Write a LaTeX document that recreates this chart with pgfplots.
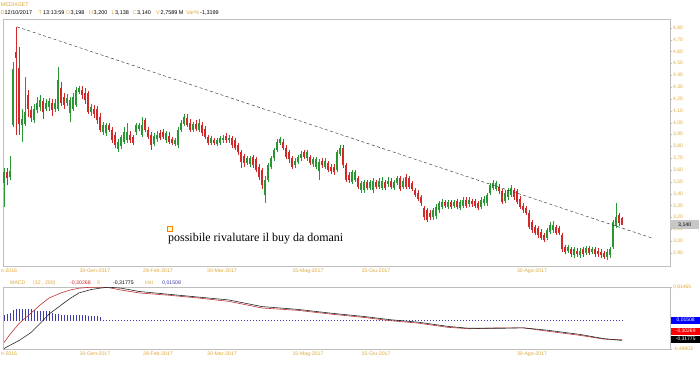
\documentclass[border=0pt]{standalone}
\usepackage{pgfplots}
\pgfplotsset{compat=1.18}
\usepackage{pgfplotstable}
\usepackage{fontspec}
\setmainfont{Liberation Sans}
\newfontfamily\annfont{Liberation Serif}
\definecolor{gold}{RGB}{222,168,58}
\definecolor{cgreen}{RGB}{40,150,50}
\definecolor{cred}{RGB}{210,40,40}
\definecolor{framegray}{RGB}{190,190,190}
\definecolor{histblue}{RGB}{60,60,170}
\definecolor{macdred}{RGB}{190,50,50}
\newcommand\g[1]{\textcolor{gold}{#1}}

\pgfplotstableread{
i o h l c hist
1 3.49 3.62 3.29 3.58 0.15
2 3.58 3.62 3.47 3.53 0.17
3 3.54 3.72 3.52 3.59 0.19
4 3.98 4.51 3.96 4.45 0.24
5 4.60 4.81 3.90 4.55 0.28
6 4.46 4.64 3.90 3.99 0.28
7 3.98 4.12 3.84 4.03 0.28
8 3.99 4.39 3.97 4.09 0.28
9 4.23 4.28 4.05 4.12 0.28
10 4.11 4.14 4.01 4.04 0.28
11 4.02 4.16 4.00 4.12 0.24
12 4.11 4.22 4.08 4.17 0.22
13 4.13 4.23 4.10 4.19 0.22
14 4.18 4.21 4.03 4.09 0.22
15 4.12 4.20 4.10 4.17 0.22
16 4.13 4.21 4.10 4.18 0.22
17 4.17 4.20 4.06 4.11 0.18
18 4.12 4.20 4.09 4.17 0.16
19 4.12 4.47 4.10 4.36 0.16
20 4.29 4.34 4.14 4.17 0.15
21 4.22 4.25 4.12 4.15 0.15
22 4.17 4.24 4.14 4.21 0.15
23 4.08 4.22 4.01 4.19 0.15
24 4.12 4.25 4.10 4.22 0.15
25 4.15 4.30 4.13 4.28 0.15
26 4.26 4.31 4.24 4.29 0.15
27 4.28 4.31 4.20 4.23 0.15
28 4.25 4.29 4.16 4.19 0.14
29 4.25 4.27 4.07 4.09 0.12
30 4.09 4.16 4.06 4.13 0.11
31 4.12 4.15 4.04 4.07 0.11
32 4.12 4.14 3.99 4.02 0.11
33 4.05 4.08 3.92 3.94 0.10
34 3.92 4.01 3.90 3.98 0.035
35 3.91 4.00 3.89 3.98 0.035
36 3.98 4.00 3.92 3.94 0.035
37 3.94 3.96 3.83 3.85 0.035
38 3.90 3.92 3.79 3.81 0.035
39 3.78 3.86 3.75 3.84 0.035
40 3.80 3.90 3.78 3.88 0.035
41 3.84 3.96 3.82 3.92 0.035
42 3.85 4.00 3.83 3.92 0.035
43 3.90 3.93 3.83 3.85 0.035
44 3.88 3.90 3.81 3.83 0.035
45 3.92 4.00 3.90 3.98 0.035
46 3.95 4.00 3.93 3.98 0.035
47 3.90 4.05 3.88 3.98 0.035
48 4.02 4.04 3.92 3.94 0.035
49 3.94 3.96 3.86 3.88 0.035
50 3.90 3.92 3.77 3.81 0.035
51 3.82 3.91 3.80 3.89 0.035
52 3.86 3.93 3.84 3.90 0.035
53 3.91 3.94 3.85 3.87 0.035
54 3.92 3.95 3.86 3.88 0.035
55 3.85 3.93 3.83 3.91 0.035
56 3.89 3.92 3.82 3.84 0.035
57 3.86 3.88 3.81 3.83 0.035
58 3.82 3.87 3.80 3.85 0.035
59 3.81 3.96 3.79 3.94 0.035
60 3.94 4.02 3.92 4.00 0.035
61 3.99 4.07 3.97 4.05 0.035
62 4.04 4.07 3.96 3.98 0.035
63 4.00 4.03 3.92 3.94 0.035
64 3.94 4.01 3.92 3.99 0.035
65 3.99 4.02 3.93 3.95 0.035
66 3.94 4.03 3.92 4.00 0.035
67 3.98 4.01 3.89 3.91 0.035
68 3.95 3.97 3.86 3.88 0.035
69 3.88 3.90 3.81 3.83 0.035
70 3.83 3.89 3.81 3.87 0.035
71 3.85 3.87 3.81 3.83 0.035
72 3.82 3.87 3.80 3.85 0.035
73 3.83 3.89 3.81 3.87 0.035
74 3.85 3.90 3.83 3.87 0.035
75 3.89 3.91 3.83 3.85 0.035
76 3.85 3.90 3.83 3.87 0.035
77 3.87 3.89 3.79 3.81 0.035
78 3.85 3.87 3.77 3.79 0.035
79 3.81 3.83 3.73 3.75 0.035
80 3.75 3.77 3.62 3.67 0.035
81 3.72 3.74 3.63 3.66 0.035
82 3.66 3.72 3.64 3.70 0.035
83 3.65 3.72 3.63 3.70 0.035
84 3.71 3.73 3.62 3.64 0.035
85 3.69 3.71 3.58 3.60 0.035
86 3.63 3.65 3.52 3.54 0.035
87 3.60 3.62 3.44 3.47 0.035
88 3.39 3.55 3.32 3.52 0.035
89 3.52 3.66 3.50 3.64 0.035
90 3.63 3.72 3.61 3.70 0.035
91 3.70 3.79 3.68 3.77 0.035
92 3.77 3.86 3.75 3.84 0.035
93 3.83 3.88 3.81 3.86 0.035
94 3.84 3.86 3.77 3.79 0.035
95 3.79 3.81 3.69 3.71 0.035
96 3.75 3.77 3.66 3.69 0.035
97 3.70 3.72 3.61 3.63 0.035
98 3.64 3.70 3.62 3.68 0.035
99 3.67 3.73 3.65 3.71 0.035
100 3.70 3.76 3.68 3.74 0.035
101 3.75 3.77 3.69 3.71 0.035
102 3.70 3.77 3.68 3.75 0.035
103 3.71 3.73 3.64 3.66 0.035
104 3.65 3.71 3.63 3.69 0.035
105 3.63 3.71 3.61 3.69 0.035
106 3.59 3.69 3.52 3.67 0.035
107 3.68 3.70 3.62 3.64 0.035
108 3.63 3.70 3.61 3.68 0.035
109 3.66 3.68 3.58 3.60 0.035
110 3.63 3.65 3.57 3.59 0.035
111 3.63 3.65 3.56 3.58 0.035
112 3.60 3.77 3.58 3.75 0.035
113 3.74 3.81 3.72 3.79 0.035
114 3.79 3.81 3.62 3.64 0.035
115 3.64 3.66 3.50 3.52 0.035
116 3.56 3.58 3.49 3.52 0.035
117 3.50 3.60 3.48 3.58 0.035
118 3.52 3.60 3.50 3.58 0.035
119 3.53 3.55 3.44 3.46 0.035
120 3.43 3.51 3.41 3.49 0.035
121 3.43 3.52 3.41 3.50 0.035
122 3.50 3.52 3.43 3.45 0.035
123 3.45 3.52 3.43 3.50 0.035
124 3.43 3.53 3.41 3.51 0.035
125 3.50 3.52 3.44 3.46 0.035
126 3.46 3.53 3.44 3.51 0.035
127 3.45 3.54 3.43 3.51 0.035
128 3.50 3.52 3.43 3.45 0.035
129 3.48 3.54 3.46 3.51 0.035
130 3.51 3.53 3.44 3.46 0.035
131 3.45 3.52 3.43 3.50 0.035
132 3.49 3.55 3.47 3.53 0.035
133 3.53 3.55 3.42 3.44 0.035
134 3.46 3.53 3.44 3.51 0.035
135 3.54 3.57 3.44 3.46 0.035
136 3.53 3.55 3.44 3.46 0.035
137 3.49 3.51 3.42 3.44 0.035
138 3.43 3.45 3.37 3.39 0.035
139 3.41 3.43 3.34 3.36 0.035
140 3.37 3.39 3.30 3.32 0.035
141 3.28 3.30 3.18 3.20 0.035
142 3.26 3.28 3.16 3.18 0.035
143 3.24 3.26 3.18 3.20 0.035
144 3.20 3.28 3.18 3.26 0.035
145 3.21 3.31 3.19 3.29 0.035
146 3.26 3.34 3.24 3.32 0.035
147 3.29 3.36 3.27 3.33 0.035
148 3.33 3.35 3.28 3.30 0.035
149 3.29 3.35 3.27 3.33 0.035
150 3.33 3.35 3.27 3.29 0.035
151 3.30 3.35 3.28 3.33 0.035
152 3.34 3.36 3.27 3.29 0.035
153 3.28 3.35 3.26 3.33 0.035
154 3.30 3.37 3.28 3.35 0.035
155 3.35 3.37 3.28 3.30 0.035
156 3.31 3.37 3.29 3.35 0.035
157 3.34 3.36 3.29 3.31 0.035
158 3.34 3.36 3.28 3.30 0.035
159 3.32 3.34 3.26 3.28 0.035
160 3.29 3.37 3.27 3.35 0.035
161 3.32 3.38 3.30 3.36 0.035
162 3.32 3.41 3.30 3.39 0.035
163 3.41 3.49 3.39 3.47 0.035
164 3.45 3.52 3.43 3.49 0.035
165 3.44 3.51 3.42 3.49 0.035
166 3.46 3.48 3.40 3.42 0.035
167 3.42 3.44 3.31 3.33 0.035
168 3.34 3.43 3.32 3.41 0.035
169 3.37 3.45 3.35 3.43 0.035
170 3.39 3.47 3.37 3.45 0.035
171 3.43 3.45 3.35 3.37 0.035
172 3.42 3.44 3.31 3.33 0.035
173 3.36 3.38 3.27 3.29 0.035
174 3.30 3.32 3.24 3.26 0.035
175 3.28 3.30 3.22 3.24 0.035
176 3.24 3.26 3.10 3.12 0.035
177 3.16 3.18 3.07 3.09 0.035
178 3.12 3.14 3.05 3.07 0.035
179 3.11 3.13 3.03 3.05 0.035
180 3.08 3.10 3.01 3.03 0.035
181 3.05 3.07 2.99 3.01 0.035
182 3.03 3.11 3.01 3.09 0.035
183 3.08 3.16 3.06 3.14 0.035
184 3.09 3.17 3.07 3.14 0.035
185 3.12 3.14 3.05 3.07 0.035
186 3.11 3.13 3.05 3.07 0.035
187 3.05 3.07 2.91 2.93 0.035
188 2.95 2.97 2.89 2.91 0.035
189 2.92 2.97 2.90 2.95 0.035
190 2.93 2.95 2.87 2.89 0.035
191 2.88 2.95 2.86 2.93 0.035
192 2.92 2.94 2.87 2.89 0.035
193 2.88 2.94 2.86 2.92 0.035
194 2.93 2.95 2.87 2.89 0.035
195 2.90 2.96 2.88 2.94 0.035
196 2.94 2.96 2.88 2.90 0.035
197 2.91 2.95 2.89 2.93 0.035
198 2.93 2.95 2.87 2.89 0.035
199 2.92 2.94 2.87 2.89 0.035
200 2.91 2.93 2.86 2.88 0.035
201 2.90 2.92 2.85 2.87 0.035
202 2.87 2.93 2.84 2.91 0.035
203 2.88 2.95 2.86 2.93 0.035
204 2.95 3.18 2.93 3.16 0.035
205 3.13 3.32 3.11 3.20 0.035
206 3.22 3.24 3.13 3.15 0.035
207 3.198 3.200 3.138 3.140 0.035
}\candles

\pgfplotstableread{
i macd sig
1 -0.36 -0.49
3 -0.19 -0.42
6 0.04 -0.32
10 0.26 -0.15
13 0.43 0.04
16 0.58 0.24
20 0.69 0.43
23 0.75 0.57
26 0.79 0.69
30 0.81 0.76
33 0.81 0.79
36 0.80 0.81
40 0.75 0.79
46 0.69 0.72
56 0.64 0.66
66 0.58 0.60
76 0.51 0.54
87 0.37 0.40
99 0.32 0.34
110 0.24 0.26
121 0.17 0.19
130 0.10 0.12
139 0.05 0.07
149 -0.04 -0.02
156 -0.07 -0.06
167 -0.05 -0.06
174 -0.05 -0.05
182 -0.12 -0.10
193 -0.21 -0.19
201 -0.29 -0.28
207 -0.30268 -0.31775
}\macdtab

\pgfplotsset{
  candle/.style 2 args={draw=none, mark=none, forget plot,
    error bars/y dir=plus, error bars/y explicit, error bars/error mark=none,
    error bars/error bar style={draw=#1, line width=#2, line cap=butt}},
}

\begin{document}
\begin{tikzpicture}[x=1bp,y=1bp]
\useasboundingbox (0bp,0bp) rectangle (700bp,-365bp);
\node[anchor=west, inner sep=0, font=\fontsize{5.5}{6}\selectfont, text=gold] at (0.5bp,-4.5bp) {MEDIASET};
\begin{scope}[every node/.style={anchor=west, inner sep=0, font=\fontsize{5.5}{6}\selectfont}]
\node[text=gold] at (0.5bp,-12.5bp) {D};   \node at (4.5bp,-12.5bp) {12/10/2017};
\node[text=gold] at (38.5bp,-12.5bp) {T};  \node at (43bp,-12.5bp) {13:13:59};
\node[text=gold] at (66bp,-12.5bp) {O};    \node at (70.5bp,-12.5bp) {3,198};
\node[text=gold] at (89bp,-12.5bp) {H};    \node at (93.5bp,-12.5bp) {3,200};
\node[text=gold] at (111.5bp,-12.5bp) {L}; \node at (115bp,-12.5bp) {3,138};
\node[text=gold] at (132.5bp,-12.5bp) {C}; \node at (137bp,-12.5bp) {3,140};
\node[text=gold] at (156bp,-12.5bp) {V};   \node at (160.5bp,-12.5bp) {2,7589 M};
\node[text=gold] at (186bp,-12.5bp) {Var\%}; \node at (200bp,-12.5bp) {-1,3199};
\end{scope}

% ---------- main price panel ----------
\begin{axis}[
  at={(3bp,-19bp)}, anchor=north west,
  width=667bp, height=247bp, scale only axis,
  xmin=0.67, xmax=223, ymin=2.79, ymax=4.876,
  axis line style={draw=framegray, line width=0.6bp},
  clip mode=individual,
  ytick={2.9,3.0,3.1,3.2,3.3,3.4,3.5,3.6,3.7,3.8,3.9,4.0,4.1,4.2,4.3,4.4,4.5,4.6,4.7,4.8},
  ytick pos=right, yticklabel pos=right,
  tick align=outside, major tick length=2bp,
  ytick style={draw=framegray, line width=0.4bp},
  yticklabel style={font=\fontsize{5}{6}\selectfont, text=gold, inner sep=1bp,
    /pgf/number format/.cd, fixed, fixed zerofill, precision=2, use comma, assume math mode=true},
  xtick={2.67,31.33,52.33,73.67,102.33,125,177},
  xticklabels={n-2016,30-Gen-2017,28-Feb-2017,30-Mar-2017,15-Mag-2017,15-Giu-2017,30-Ago-2017},
  xtick style={draw=none},
  xticklabel style={font=\fontsize{5.2}{6}\selectfont, text=gold, inner sep=1bp},
]
% wicks
\addplot[restrict expr to domain={\thisrow{c}-\thisrow{o}}{0:5}, candle={cgreen}{0.6bp}]
  table[x=i, y=l, y error expr=\thisrow{h}-\thisrow{l}]{\candles};
\addplot[restrict expr to domain={\thisrow{c}-\thisrow{o}}{-5:-0.00001}, candle={cred}{0.6bp}]
  table[x=i, y=l, y error expr=\thisrow{h}-\thisrow{l}]{\candles};
% bodies
\addplot[restrict expr to domain={\thisrow{c}-\thisrow{o}}{0:5}, candle={cgreen}{2bp}]
  table[x=i, y=o, y error expr=\thisrow{c}-\thisrow{o}]{\candles};
\addplot[restrict expr to domain={\thisrow{c}-\thisrow{o}}{-5:-0.00001}, candle={cred}{2bp}]
  table[x=i, y=c, y error expr=\thisrow{o}-\thisrow{c}]{\candles};
% trend line
\addplot[black!75, line width=0.5bp, dash pattern=on 3bp off 2.5bp] coordinates {(5.33,4.81) (217,3.026)};
\node[anchor=west, fill=black!22, inner sep=0pt, minimum width=29bp, minimum height=9bp, font=\fontsize{5.2}{6}\selectfont] at (axis cs:223,3.14) {3,140};
\end{axis}

\node[draw=orange, fill=yellow!25, line width=0.5bp, minimum size=5bp, inner sep=0] at (169.5bp,-228.5bp) {};
\node[anchor=base west, inner sep=0, font=\annfont\fontsize{12}{14}\selectfont] at (168bp,-241.7bp) {possibile rivalutare il buy da domani};

% ---------- MACD panel ----------
\begin{scope}[every node/.style={anchor=west, inner sep=0, font=\fontsize{5.2}{6}\selectfont}]
\node[text=gold] at (10bp,-283bp) {MACD};
\node[text=gold] at (33bp,-283bp) {(32 , 200)};
\node[text=cred] at (70bp,-283bp) {-0,30268};
\node[text=gold] at (97bp,-283bp) {9};
\node at (113bp,-283bp) {-0,31775};
\node[text=gold] at (145bp,-283bp) {Hst};
\node[text=histblue] at (162bp,-283bp) {0,01508};
\end{scope}

\begin{axis}[
  at={(3bp,-287bp)}, anchor=north west,
  width=667bp, height=62bp, scale only axis,
  xmin=0.67, xmax=223, ymin=-0.6, ymax=0.75,
  hide axis,
]
\addplot[ycomb, draw=histblue, line width=0.6bp, mark=none] table[x=i, y=hist]{\candles};
\end{axis}

\begin{axis}[
  at={(3bp,-287bp)}, anchor=north west,
  width=667bp, height=62bp, scale only axis,
  xmin=0.67, xmax=223, ymin=-0.49903, ymax=0.81465,
  axis line style={draw=framegray, line width=0.6bp},
  ytick={-0.49903,0.81465}, yticklabels={{-0,49903},{0,81465}},
  ytick pos=right, yticklabel pos=right,
  tick align=outside, major tick length=2bp,
  ytick style={draw=framegray, line width=0.4bp},
  yticklabel style={font=\fontsize{5}{6}\selectfont, text=gold, inner sep=1bp},
  xtick={2.67,31.33,52.33,73.67,102.33,125,177},
  xticklabels={n-2016,30-Gen-2017,28-Feb-2017,30-Mar-2017,15-Mag-2017,15-Giu-2017,30-Ago-2017},
  xtick style={draw=none},
  xticklabel style={font=\fontsize{5.2}{6}\selectfont, text=gold, inner sep=1bp},
]
\addplot[macdred, line width=0.6bp] table[x=i, y=macd]{\macdtab};
\addplot[black!85, line width=0.6bp] table[x=i, y=sig]{\macdtab};
\end{axis}

\node[anchor=west, fill=blue, text=white, inner sep=0pt, minimum width=29bp, minimum height=7bp, font=\fontsize{5}{6}\selectfont] at (671bp,-320bp) {0,01508};
\node[anchor=west, fill=red, text=white, inner sep=0pt, minimum width=29bp, minimum height=7bp, font=\fontsize{5}{6}\selectfont] at (671bp,-331bp) {-0,30269};
\node[anchor=west, fill=black, text=white, inner sep=0pt, minimum width=29bp, minimum height=7bp, font=\fontsize{5}{6}\selectfont] at (671bp,-339.5bp) {-0,31775};
\end{tikzpicture}
\end{document}
